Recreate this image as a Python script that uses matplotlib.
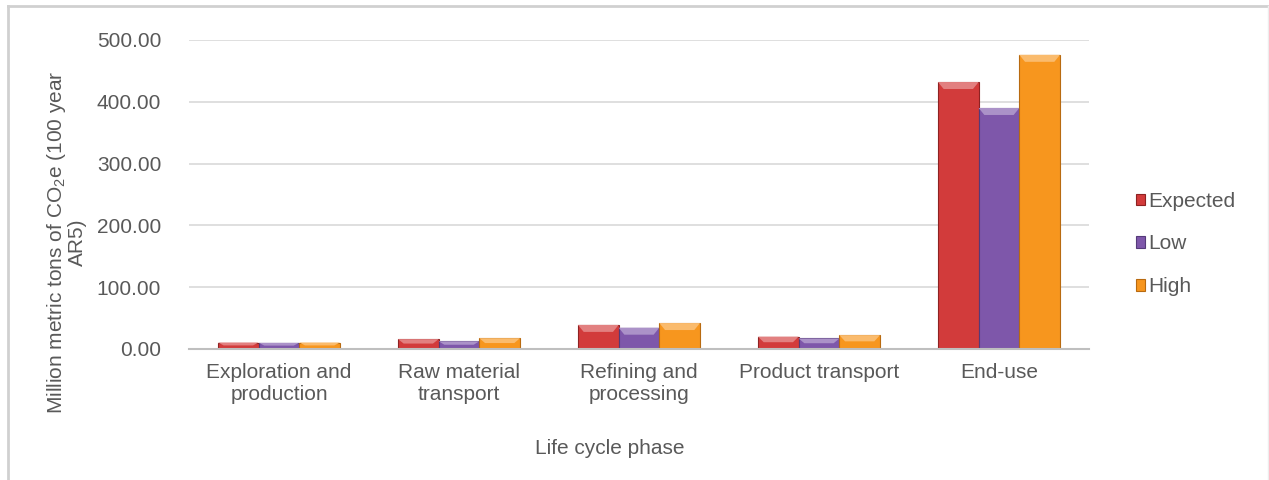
import numpy as np
import matplotlib.pyplot as plt
from matplotlib.patches import Polygon
from matplotlib.lines import Line2D
import matplotlib.colors as mcolors

plt.rcParams['font.family'] = ['Liberation Sans', 'DejaVu Sans']
plt.rcParams['mathtext.fontset'] = 'custom'
plt.rcParams['mathtext.rm'] = 'Liberation Sans'
plt.rcParams['mathtext.it'] = 'Liberation Sans'

# DATA
phases = ["Exploration and\nproduction", "Raw material\ntransport",
          "Refining and\nprocessing", "Product transport", "End-use"]
expected = [10.5, 16.0, 39.0, 20.0, 432.0]
low = [10.0, 12.5, 34.5, 17.0, 390.0]
high = [10.5, 17.5, 42.0, 22.5, 476.0]
series_names = ["Expected", "Low", "High"]
yticks = [0, 100, 200, 300, 400, 500]

colors = ["#D23B3B", "#7E57AA", "#F7961E"]
edges = ["#8E2222", "#553A7A", "#B86A10"]
text_col = "#595959"

fig = plt.figure(figsize=(12.69, 4.8), dpi=100)
ax = fig.add_axes([189 / 1269, 1 - 349 / 480, 900 / 1269, 309 / 480])

x = np.arange(len(phases))
w = 0.226
# data units per pixel (for bevel size)
px_y = 500 / 309

for i, (vals, c, ec) in enumerate(zip([expected, low, high], colors, edges)):
    pos = x + (i - 1) * w
    bars = ax.bar(pos, vals, width=w, color=c, edgecolor=ec, linewidth=0.8,
                  label=series_names[i], zorder=3)
    light = mcolors.to_rgb(c)
    light = tuple(min(1, v + (1 - v) * 0.35) for v in light)
    for b in bars:
        bx, bw, bh = b.get_x(), b.get_width(), b.get_height()
        d = min(bh * 0.45, 7 * px_y)
        ins = bw * 0.14
        top = Polygon([(bx, bh), (bx + bw, bh), (bx + bw - ins, bh - d),
                       (bx + ins, bh - d)], closed=True, facecolor=light,
                      edgecolor="none", zorder=4)
        ax.add_patch(top)

ax.set_xlim(-0.5, len(phases) - 0.5)
ax.set_ylim(0, 500)
ax.set_yticks(yticks)
ax.set_yticklabels([f"{v:.2f}" for v in yticks])
ax.set_xticks(x)
ax.set_xticklabels(phases)
ax.tick_params(axis="both", length=0, labelsize=15, colors=text_col)
ax.tick_params(axis="y", pad=20)
ax.tick_params(axis="x", pad=10)
ax.yaxis.grid(True, color="#D9D9D9", linewidth=1.2, zorder=0)
ax.set_axisbelow(True)
for s in ["top", "right", "left"]:
    ax.spines[s].set_visible(False)
ax.spines["bottom"].set_color("#BFBFBF")
ax.spines["bottom"].set_linewidth(1.5)
ax.spines["bottom"].set_zorder(5)

fig.text(610 / 1269, 1 - 448 / 480, "Life cycle phase", ha="center",
         va="center", fontsize=15, color=text_col)
fig.text(66 / 1269, 1 - 242 / 480,
         "Million metric tons of CO$_2$e (100 year\nAR5)", rotation=90,
         ha="center", va="center", multialignment="center", fontsize=15,
         color=text_col, linespacing=1.0)

handles = [plt.Rectangle((0, 0), 1, 1, facecolor=c, edgecolor=ec, linewidth=0.8)
           for c, ec in zip(colors, edges)]
leg = fig.legend(handles, series_names, loc="center left",
                 bbox_to_anchor=(1117 / 1269, 1 - 244 / 480), frameon=False,
                 fontsize=15, handlelength=0.45, handleheight=0.45,
                 handletextpad=0.15, labelspacing=1.15)
for t in leg.get_texts():
    t.set_color(text_col)

# outer chart frame
fig.add_artist(Line2D([8 / 1269, 1], [1 - 6 / 480, 1 - 6 / 480],
                      color="#D0D0D0", linewidth=2))
fig.add_artist(Line2D([8 / 1269, 8 / 1269], [0, 1 - 6 / 480],
                      color="#D0D0D0", linewidth=2))
fig.add_artist(Line2D([1268 / 1269, 1268 / 1269], [0, 1 - 6 / 480],
                      color="#EDEDED", linewidth=1))

fig.savefig("out.png", dpi=100, facecolor="white")
